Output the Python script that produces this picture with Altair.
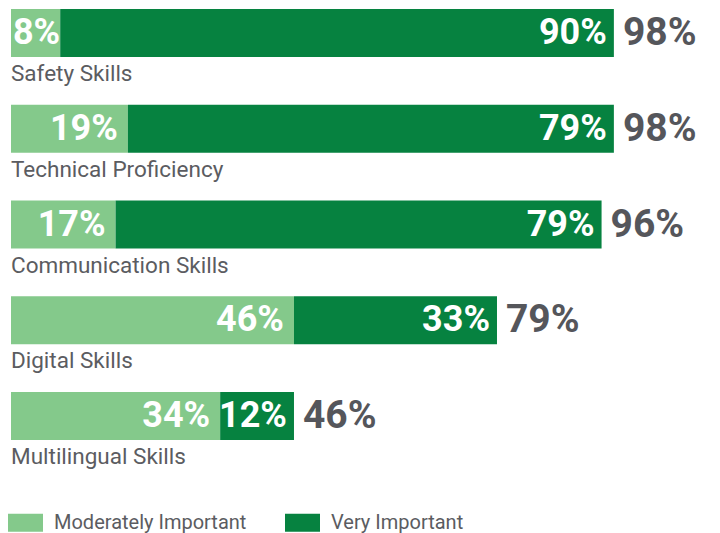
import altair as alt
import pandas as pd

categories = ["Safety Skills", "Technical Proficiency", "Communication Skills",
              "Digital Skills", "Multilingual Skills"]
moderately = [8, 19, 17, 46, 34]
very = [90, 79, 79, 33, 12]
totals = [98, 98, 96, 79, 46]
series = ["Moderately Important", "Very Important"]
colors = ["#84C98B", "#068240"]

rows = []
for c, m, v in zip(categories, moderately, very):
    rows.append({"cat": c, "series": series[0], "ord": 0, "start": 0, "end": m, "val": m})
    rows.append({"cat": c, "series": series[1], "ord": 1, "start": m, "end": m + v, "val": v})
seg = pd.DataFrame(rows)
seg["label"] = seg["val"].astype(str) + "%"
seg["mid"] = (seg["start"] + seg["end"]) / 2
tot = pd.DataFrame({"cat": categories, "total": totals})
tot["label"] = tot["total"].astype(str) + "%"

xscale = alt.Scale(domain=[0, 112], nice=False, zero=True)
yenc = alt.Y("cat:N", sort=categories, axis=None,
             scale=alt.Scale(paddingInner=0, paddingOuter=0))
FONT = "Roboto"
NUMSIZE = 36

bars = alt.Chart(seg).mark_bar(size=48, yOffset=-26).encode(
    x=alt.X("start:Q", scale=xscale, axis=None),
    x2="end:Q",
    y=yenc,
    color=alt.Color("series:N", scale=alt.Scale(domain=series, range=colors),
                    legend=alt.Legend(title=None, orient="none", legendX=-3, legendY=494,
                                      direction="horizontal",
                                      symbolType="M-1,-0.514H1V0.514H-1Z",
                                      symbolSize=1225, symbolOpacity=1,
                                      symbolStrokeWidth=0,
                                      labelFont=FONT, labelFontSize=20,
                                      labelLimit=400,
                                      labelColor="#5b5c61", labelOffset=11,
                                      columnPadding=38)),
)

inner_mod = alt.Chart(seg).transform_filter(
    "datum.val >= 10 && datum.ord == 0").mark_text(
    align="right", baseline="middle", yOffset=-26, dx=-10,
    font=FONT, fontWeight="bold", fontSize=NUMSIZE, color="white").encode(
    x=alt.X("end:Q", scale=xscale), y=yenc, text="label:N")

inner_very = alt.Chart(seg).transform_filter("datum.ord == 1").mark_text(
    align="right", baseline="middle", yOffset=-26, dx=-7,
    font=FONT, fontWeight="bold", fontSize=NUMSIZE, color="white").encode(
    x=alt.X("end:Q", scale=xscale), y=yenc, text="label:N")

inner_narrow = alt.Chart(seg).transform_filter("datum.val < 10").mark_text(
    align="center", baseline="middle", yOffset=-26, dx=1,
    font=FONT, fontWeight="bold", fontSize=NUMSIZE, color="white").encode(
    x=alt.X("mid:Q", scale=xscale), y=yenc, text="label:N")

total_txt = alt.Chart(tot).mark_text(align="left", baseline="middle", yOffset=-26, dx=9,
                                     font=FONT, fontWeight="bold", fontSize=39,
                                     color="#55565b").encode(
    x=alt.X("total:Q", scale=xscale), y=yenc, text="label:N")

cat_txt = alt.Chart(tot).mark_text(align="left", baseline="middle", yOffset=15,
                                   font=FONT, fontSize=22.5, color="#5b5c61").encode(
    x=alt.value(0), y=yenc, text="cat:N")

chart = alt.layer(bars, inner_mod, inner_very, inner_narrow, total_txt, cat_txt).properties(
    width=689, height=479,
    padding={"left": 0, "top": 0, "right": 0, "bottom": 0},
).configure_view(stroke=None)

chart.save("out.html", embed_options={"renderer": "svg", "actions": False})
